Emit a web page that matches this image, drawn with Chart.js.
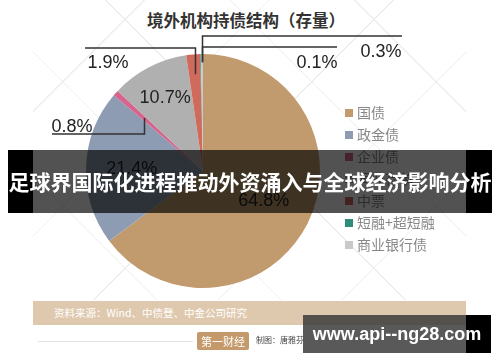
<!DOCTYPE html>
<html><head><meta charset="utf-8">
<script src="https://cdn.jsdelivr.net/npm/chart.js@4"></script>
<style>
html,body{margin:0;padding:0;}
body{width:500px;height:362px;position:relative;overflow:hidden;background:#fff;font-family:"Noto Sans CJK SC","Liberation Sans",sans-serif;}
#bg{position:absolute;left:33px;top:0;width:433px;height:300px;
 background:
 repeating-linear-gradient(45deg, transparent 0 87px, #eeeeee 87px 88px),
 repeating-linear-gradient(-45deg, transparent 0 87px, #eeeeee 87px 88px);}
#title{position:absolute;left:0;width:492px;top:8px;text-align:center;font-size:16.5px;font-weight:bold;color:#333;}
canvas{position:absolute;left:0;top:0;}
#legend{position:absolute;left:345px;top:101px;font-size:14px;color:#888;line-height:22px;}
#legend div{height:22px;white-space:nowrap;}
#legend span.sq{display:inline-block;width:8px;height:8px;margin-right:4px;vertical-align:1px;}
#src{position:absolute;left:33px;top:301px;width:433px;height:24px;background:#dfc9ae;color:#fff;font-size:10.5px;line-height:24px;}
#src span{margin-left:21px;}
#rule{position:absolute;left:38px;top:341px;width:155px;height:1px;background:#e3e3e3;}
#logo{position:absolute;left:197px;top:332px;width:52px;height:18px;background:#c49a6c;color:#fff;font-size:11px;line-height:18px;text-align:center;border-radius:2px;}
#maker{position:absolute;left:256px;top:334px;font-size:8px;color:#444;}
#bannerOv{position:absolute;left:33px;top:150px;width:433px;height:63px;background:rgba(0,0,0,0.68);}
#bannerBlackL{position:absolute;left:8px;top:150px;width:25px;height:63px;background:#000;}
#bannerBlackR{position:absolute;left:466px;top:150px;width:26px;height:63px;background:#000;}
#bannerText{position:absolute;left:0;width:500px;top:150px;height:63px;line-height:63px;text-align:center;color:#fff;font-size:21px;font-weight:bold;white-space:nowrap;}
#wm{position:absolute;left:303px;top:315px;width:163px;height:38px;background:rgba(60,60,60,0.85);}
#wmR{position:absolute;left:466px;top:315px;width:25px;height:38px;background:#000;}
#wmText{position:absolute;left:303px;top:315px;width:188px;height:38px;line-height:38px;text-align:center;color:#fff;font-size:18px;font-weight:bold;white-space:nowrap;font-family:"Liberation Sans",Arial,sans-serif;}
</style></head>
<body>
<div id="bg"></div>
<div id="title">境外机构持债结构（存量）</div>
<canvas id="c" width="500" height="362"></canvas>
<div id="legend"></div>
<div id="src"><span>资料来源：Wind、中债登、中金公司研究</span></div>
<div id="rule"></div>
<div id="logo">第一财经</div>
<div id="maker">制图：唐雅芬</div>
<div id="bannerOv"></div>
<div id="bannerBlackL"></div>
<div id="bannerBlackR"></div>
<div id="bannerText">足球界国际化进程推动外资涌入与全球经济影响分析</div>
<div id="wm"></div>
<div id="wmR"></div>
<div id="wmText">www.api--ng28.com</div>
<script>
const categories = ['国债','政金债','企业债','同业存单','中票','短融+超短融','商业银行债'];
const values = [64.8, 21.4, 0.8, 10.7, 1.9, 0.1, 0.3];
const valueLabels = ['64.8%','21.4%','0.8%','10.7%','1.9%','0.1%','0.3%'];
const colors = ['#c19b6e','#8d9cb2','#d7648c','#b0b0b0','#d06b5c','#2e8b7e','#c9c9c9'];

const lg = document.getElementById('legend');
categories.forEach((c,i)=>{
  const d=document.createElement('div');
  d.innerHTML='<span class="sq" style="background:'+colors[i]+'"></span>'+c;
  lg.appendChild(d);
});

const labelRules = [
  {type:'in', f:0.58},
  {type:'in', f:0.61},
  {type:'out', f:0.68, elbowY:134, endX:52, tx:72, ty:127},
  {type:'in', f:0.70},
  {type:'out', f:0.83, elbowY:48, endX:85, tx:108, ty:63},
  {type:'out', f:0.93, elbowY:47, endX:337, tx:317, ty:63, dx:1},
  {type:'out', f:0.93, elbowY:36, endX:402, tx:381, ty:52}
];

const labelPlugin = {
  id:'lbl',
  afterDatasetsDraw(chart){
    const ctx=chart.ctx;
    const meta=chart.getDatasetMeta(0);
    ctx.save();
    ctx.font='18px "Liberation Sans", Arial, sans-serif';
    ctx.fillStyle='#222';
    ctx.textAlign='center';
    ctx.textBaseline='middle';
    meta.data.forEach((arc,i)=>{
      const p=arc.getProps(['x','y','startAngle','endAngle','outerRadius'],true);
      const mid=(p.startAngle+p.endAngle)/2;
      const r=labelRules[i];
      const ax=p.x+Math.cos(mid)*p.outerRadius*r.f + (r.dx||0);
      const ay=p.y+Math.sin(mid)*p.outerRadius*r.f;
      if(r.type==='in'){
        ctx.fillText(valueLabels[i],ax,ay);
      } else {
        ctx.strokeStyle='#333';
        ctx.lineWidth=1.5;
        ctx.beginPath();
        ctx.moveTo(Math.round(ax)+0.5,ay);
        ctx.lineTo(Math.round(ax)+0.5,r.elbowY);
        ctx.lineTo(r.endX,r.elbowY);
        ctx.stroke();
        ctx.fillText(valueLabels[i],r.tx,r.ty);
      }
    });
    ctx.restore();
  }
};

new Chart(document.getElementById('c'),{
  type:'pie',
  data:{labels:categories,datasets:[{data:values,backgroundColor:colors,borderWidth:0}]},
  options:{
    responsive:false,animation:false,
    layout:{padding:{left:86,right:180,top:54,bottom:74}},
    plugins:{legend:{display:false},tooltip:{enabled:false}}
  },
  plugins:[labelPlugin]
});
</script>
</body></html>
